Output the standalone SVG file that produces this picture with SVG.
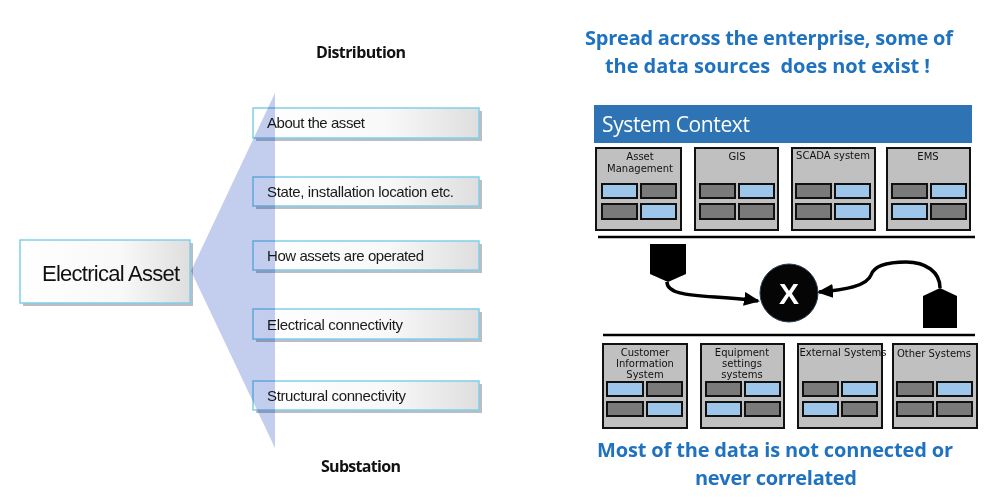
<svg xmlns="http://www.w3.org/2000/svg" width="1000" height="502" viewBox="0 0 1000 502">
<defs>
<linearGradient id="boxg" x1="0" y1="0" x2="1" y2="0">
<stop offset="0" stop-color="#ffffff"/>
<stop offset="0.6" stop-color="#f8f8f8"/>
<stop offset="1" stop-color="#dedede"/>
</linearGradient>
<marker id="ah" markerUnits="userSpaceOnUse" markerWidth="16" markerHeight="14" refX="14" refY="7" orient="auto">
<path d="M0,0 L16,7 L0,14 Z" fill="#000"/>
</marker>
</defs>
<style>
.lbox{fill:url(#boxg);stroke:#7fd0ea;stroke-width:1.5}
.shd{fill:#bcbcc4}
.ltxt{font-family:"Liberation Sans",Arial,sans-serif;font-size:15px;fill:#1a1a1a}
.hdr{font-family:"Open Sans","Noto Sans",sans-serif;font-weight:bold;font-size:16px;fill:#111}
.blue{font-family:"Open Sans","Noto Sans",sans-serif;font-weight:bold;font-size:20px;fill:#1f72c0}
.sys{fill:#c0c0c0;stroke:#111;stroke-width:2}
.lb{fill:#9ec5ea;stroke:#111;stroke-width:2}
.dg{fill:#7a7a7a;stroke:#111;stroke-width:2}
.stx{font-family:"DejaVu Sans",Verdana,sans-serif;font-size:10px;fill:#111;text-anchor:middle}
.sep{stroke:#000;stroke-width:2.5}
.conn{fill:none;stroke:#000;stroke-width:3.5;marker-end:url(#ah)}
</style>

<!-- Left side -->
<text class="hdr" x="316" y="58" textLength="90">Distribution</text>
<text class="hdr" x="321" y="472" textLength="80">Substation</text>

<g id="electrical-asset">
<rect class="shd" x="23" y="243" width="170" height="63"/>
<rect class="lbox" x="20" y="240" width="170" height="63"/>
<text x="42" y="281" font-family="Liberation Sans,Arial,sans-serif" font-size="22" fill="#111" textLength="138">Electrical Asset</text>
</g>

<g id="about-asset">
<rect class="shd" x="256" y="111" width="226" height="30"/>
<rect class="lbox" x="253" y="108" width="226" height="30"/>
<text class="ltxt" x="267" y="128" textLength="98">About the asset</text>
</g>
<g id="state-location">
<rect class="shd" x="256" y="180" width="226" height="29"/>
<rect class="lbox" x="253" y="177" width="226" height="29"/>
<text class="ltxt" x="267" y="197" textLength="187">State, installation location etc.</text>
</g>
<g id="how-operated">
<rect class="shd" x="256" y="244" width="226" height="29"/>
<rect class="lbox" x="253" y="241" width="226" height="29"/>
<text class="ltxt" x="267" y="261" textLength="157">How assets are operated</text>
</g>
<g id="electrical-connectivity">
<rect class="shd" x="256" y="312" width="226" height="30"/>
<rect class="lbox" x="253" y="309" width="226" height="30"/>
<text class="ltxt" x="267" y="330" textLength="136">Electrical connectivity</text>
</g>
<g id="structural-connectivity">
<rect class="shd" x="256" y="384" width="226" height="29"/>
<rect class="lbox" x="253" y="381" width="226" height="29"/>
<text class="ltxt" x="267" y="401" textLength="139">Structural connectivity</text>
</g>

<g id="fan">
<path d="M191,271 L275,93 L275,448 Z" fill="#c3cdee" style="mix-blend-mode:multiply"/>
</g>

<!-- Right side -->
<text class="blue" x="585" y="45" textLength="368">Spread across the enterprise, some of</text>
<text class="blue" x="605" y="73" textLength="325" xml:space="preserve">the data sources  does not exist !</text>

<g id="system-context">
<rect x="594" y="105" width="378" height="38" fill="#2e74b5"/>
<text x="602" y="132" font-family="Open Sans,Noto Sans,sans-serif" font-size="21" fill="#fff" textLength="148">System Context</text>
</g>

<g id="asset-management">
<rect class="sys" x="596" y="148" width="85" height="82"/>
<text class="stx" x="640" y="160">Asset</text>
<text class="stx" x="640" y="172">Management</text>
<rect class="lb" x="602" y="184" width="35" height="14"/><rect class="dg" x="641" y="184" width="35" height="14"/>
<rect class="dg" x="602" y="204" width="35" height="15"/><rect class="lb" x="641" y="204" width="35" height="15"/>
</g>
<g id="gis">
<rect class="sys" x="695" y="148" width="83" height="82"/>
<text class="stx" x="737" y="160">GIS</text>
<rect class="dg" x="700" y="184" width="35" height="14"/><rect class="lb" x="739" y="184" width="35" height="14"/>
<rect class="dg" x="700" y="204" width="35" height="15"/><rect class="dg" x="739" y="204" width="35" height="15"/>
</g>
<g id="scada">
<rect class="sys" x="792" y="148" width="83" height="82"/>
<text class="stx" x="833" y="159">SCADA system</text>
<rect class="dg" x="796" y="184" width="35" height="14"/><rect class="lb" x="835" y="184" width="35" height="14"/>
<rect class="dg" x="796" y="204" width="35" height="15"/><rect class="lb" x="835" y="204" width="35" height="15"/>
</g>
<g id="ems">
<rect class="sys" x="887" y="148" width="83" height="82"/>
<text class="stx" x="928" y="160">EMS</text>
<rect class="dg" x="892" y="184" width="35" height="14"/><rect class="lb" x="931" y="184" width="35" height="14"/>
<rect class="lb" x="892" y="204" width="35" height="15"/><rect class="dg" x="931" y="204" width="35" height="15"/>
</g>

<line class="sep" x1="598" y1="237" x2="975" y2="237"/>
<line class="sep" x1="603" y1="335" x2="975" y2="335"/>

<g id="source-left">
<path d="M650,244 H686 V274 L668,282 L650,274 Z" fill="#000"/>
</g>
<g id="source-right">
<path d="M923,296 L940,288 L957,296 V328 H923 Z" fill="#000"/>
</g>
<g id="correlate">
<circle cx="789" cy="293" r="29" fill="#050505" stroke="#2a3d55" stroke-width="1"/>
<text x="789" y="304" text-anchor="middle" font-family="Liberation Sans,Arial,sans-serif" font-weight="bold" font-size="30" fill="#fff">X</text>
</g>

<g id="connectors">
<path class="conn" d="M667,282 C667,293 685,295 715,297 C730,298 745,299 758,301"/>
<path class="conn" d="M940,288 C940,272 926,262 906,262 C886,262 874,266 871,275 C867,286 845,290 819,292"/>
</g>

<g id="customer-info">
<rect class="sys" x="603" y="344" width="84" height="84"/>
<text class="stx" x="645" y="356" font-size="11">Customer</text>
<text class="stx" x="645" y="367" font-size="11">Information</text>
<text class="stx" x="645" y="378" font-size="11">System</text>
<rect class="lb" x="607" y="382" width="36" height="14"/><rect class="dg" x="647" y="382" width="35" height="14"/>
<rect class="dg" x="607" y="402" width="36" height="14"/><rect class="lb" x="647" y="402" width="35" height="14"/>
</g>
<g id="equipment-settings">
<rect class="sys" x="701" y="344" width="83" height="84"/>
<text class="stx" x="742" y="356" font-size="11">Equipment</text>
<text class="stx" x="742" y="367" font-size="11">settings</text>
<text class="stx" x="742" y="378" font-size="11">systems</text>
<rect class="dg" x="706" y="382" width="35" height="14"/><rect class="lb" x="745" y="382" width="35" height="14"/>
<rect class="lb" x="706" y="402" width="35" height="14"/><rect class="dg" x="745" y="402" width="35" height="14"/>
</g>
<g id="external-systems">
<rect class="sys" x="798" y="344" width="84" height="84"/>
<text class="stx" x="843" y="356" font-size="11">External Systems</text>
<rect class="dg" x="803" y="382" width="35" height="14"/><rect class="lb" x="842" y="382" width="35" height="14"/>
<rect class="lb" x="803" y="402" width="35" height="14"/><rect class="dg" x="842" y="402" width="35" height="14"/>
</g>
<g id="other-systems">
<rect class="sys" x="893" y="344" width="84" height="84"/>
<text class="stx" x="934" y="357" font-size="11">Other Systems</text>
<rect class="dg" x="897" y="382" width="36" height="14"/><rect class="lb" x="937" y="382" width="35" height="14"/>
<rect class="dg" x="897" y="402" width="36" height="14"/><rect class="dg" x="937" y="402" width="35" height="14"/>
</g>

<text class="blue" x="597" y="457" textLength="356">Most of the data is not connected or</text>
<text class="blue" x="695" y="485" textLength="162">never correlated</text>
</svg>
